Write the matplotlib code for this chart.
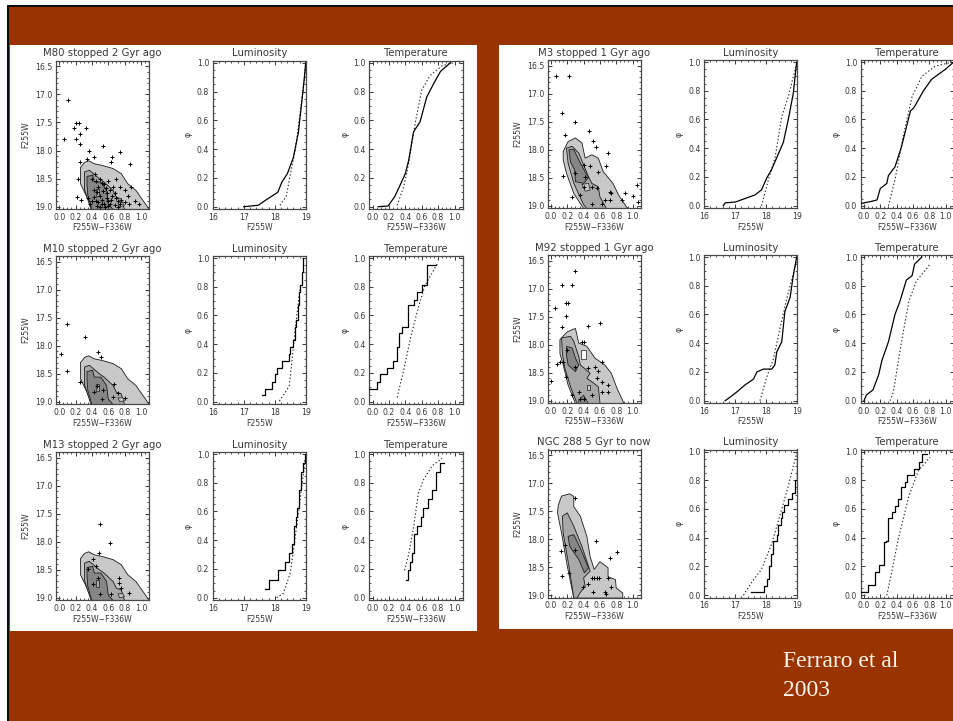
import matplotlib
matplotlib.use("Agg")
import matplotlib.pyplot as plt
from matplotlib.patches import Rectangle, Polygon
from matplotlib.ticker import MultipleLocator

W, H = 954, 721
BROWN = "#993300"
LIGHT, MID, DARK = "#c8c8c8", "#a8a8a8", "#868686"

titles_left = ["M80 stopped 2 Gyr ago", "M10 stopped 2 Gyr ago", "M13 stopped 2 Gyr ago"]
titles_right = ["M3 stopped 1 Gyr ago", "M92 stopped 1 Gyr ago", "NGC 288 5 Gyr to now"]
credit = "Ferraro et al\n2003"

# ---- contour outlines (colour, magnitude) ----
old_outer = [(.26,18.30),(.31,18.21),(.36,18.18),(.43,18.235),(.53,18.265),(.66,18.32),(.76,18.41),(.84,18.59),(.94,18.71),(1.08,19.0),(1.1,19.05),(.41,19.05),(.33,18.8),(.26,18.59)]
old_mid = [(.31,18.38),(.37,18.35),(.49,18.5),(.55,18.56),(.66,18.71),(.7,18.83),(.76,18.86),(.8,19.05),(.39,19.05),(.31,18.7)]
old_dark = [(.34,18.46),(.41,18.44),(.43,18.56),(.51,18.56),(.58,18.71),(.6,18.95),(.66,19.05),(.4,19.05),(.35,18.8),(.34,18.6)]
old_spot_a = [(.45,18.68),(.49,18.68),(.49,18.8),(.45,18.8)]
old_spot_b = [(.72,18.93),(.78,18.93),(.8,18.98),(.74,19.0)]

m3_outer = [(.15,18.03),(.21,17.855),(.3,17.79),(.38,17.88),(.41,18.09),(.42,18.15),(.5,18.09),(.58,18.15),(.64,18.39),(.76,18.6),(.83,18.81),(.93,19.03),(.95,19.05),(.40,19.05),(.28,18.78),(.19,18.42),(.15,18.18)]
m3_mid = [(.19,17.97),(.26,17.94),(.34,18.06),(.46,18.48),(.5,18.6),(.58,18.66),(.6,18.84),(.68,19.05),(.44,19.05),(.40,18.98),(.28,18.6),(.21,18.24)]
m3_dark = [(.22,18.0),(.28,18.0),(.36,18.24),(.44,18.45),(.46,18.5),(.4,18.6),(.3,18.57),(.29,18.36),(.24,18.22)]
m3_spot = [(.38,18.62),(.46,18.6),(.48,18.72),(.42,18.74)]

m92_outer = [(.11,17.91),(.2,17.77),(.3,17.71),(.34,17.97),(.44,18.03),(.54,18.24),(.66,18.36),(.74,18.51),(.81,18.78),(.89,19.03),(.91,19.05),(.30,19.05),(.21,18.72),(.15,18.36),(.11,18.16)]
m92_mid = [(.13,17.88),(.24,17.85),(.28,17.94),(.34,18.21),(.36,18.36),(.48,18.51),(.44,18.6),(.5,18.66),(.58,18.75),(.6,19.02),(.6,19.05),(.32,19.05),(.24,18.75),(.17,18.42),(.14,18.16)]
m92_dark = [(.19,18.03),(.26,18.06),(.3,18.24),(.34,18.36),(.3,18.48),(.21,18.36),(.19,18.18)]
m92_hole = [(.37,18.09),(.43,18.09),(.43,18.25),(.37,18.25)]
m92_spot_a = [(.44,18.72),(.48,18.72),(.48,18.8),(.44,18.8)]
m92_spot_b = [(.34,19.0),(.4,18.9),(.46,19.05),(.34,19.05)]

n288_outer = [(.09,17.39),(.13,17.23),(.23,17.19),(.28,17.24),(.28,17.42),(.36,17.59),(.44,17.95),(.48,18.31),(.53,18.54),(.6,18.4),(.7,18.51),(.7,18.67),(.79,18.72),(.8,18.87),(.88,18.96),(.88,19.05),(.28,19.05),(.2,18.48),(.13,17.89),(.08,17.53)]
n288_mid = [(.14,17.59),(.2,17.53),(.28,17.77),(.38,18.13),(.48,18.57),(.4,18.69),(.42,18.84),(.36,18.95),(.32,19.05),(.28,19.05),(.22,18.48),(.15,17.89)]
n288_dark = [(.21,17.95),(.28,17.92),(.36,18.16),(.46,18.51),(.41,18.6),(.34,18.36),(.23,18.13)]

# ---- stars (colour, magnitude) ----
m80_stars = [(.11,17.10),(.06,17.80),(.18,17.60),(.2,17.51),(.24,17.51),(.33,17.60),(.2,17.79),(.25,17.70),(.26,17.89),(.54,17.91),(.75,18.03),(.87,18.24),(.37,18.0),(.43,18.11),(.65,18.11),(.63,18.2),(.25,18.21),(.34,18.15),(.23,18.51),(.22,18.82),(.27,18.88),
  (.4,18.5),(.45,18.55),(.5,18.5),(.55,18.6),(.6,18.55),(.7,18.5),(.75,18.65),(.8,18.7),(.88,18.65),(.85,18.95),(.93,18.9),(.98,18.95),(.75,18.95),(.7,18.85),(.65,18.8),(.6,18.9),(.55,18.95),(.5,18.8),(.45,18.9),(.42,18.7),(.38,18.95),(.48,18.65),(.58,18.75),(.66,18.65),(.62,18.95),(.72,19.0),(.8,18.92),(.52,18.95),(.35,18.85),(.46,18.98),
  (.44,18.42),(.52,18.58),(.57,18.66),(.62,18.7),(.68,18.75),(.72,18.9),(.64,18.88),(.58,18.85),(.53,18.88),(.48,18.92),(.43,18.82),(.4,18.9),(.5,19.0),(.56,19.0),(.6,18.98),(.68,18.96),(.76,18.88),(.84,18.8),(.46,18.74),(.54,18.72)]
m10_stars = [(.09,17.61),(.31,17.84),(.02,18.14),(.1,18.45),(.47,18.12),(.51,18.2),(.25,18.64),(.43,18.83),(.54,18.79),(.52,18.95),(.67,18.69),(.72,18.85),(.8,18.93),(.66,18.92),(.46,18.71)]
m13_stars = [(.5,17.69),(.62,18.03),(.49,18.21),(.41,18.31),(.45,18.43),(.35,18.49),(.47,18.64),(.73,18.64),(.73,18.73),(.41,18.76),(.5,18.94),(.76,18.82),(.86,18.91),(.64,18.94)]
m3_stars = [(.06,16.69),(.22,16.68),(.13,17.34),(.3,17.51),(.17,17.73),(.47,17.66),(.52,17.85),(.55,17.96),(.7,18.06),(.68,18.29),(.48,18.29),(.4,18.27),(.15,18.47),(1.05,18.63),(1.0,18.83),(.91,18.77),(1.07,18.93),(.3,18.42),(.4,18.66),(.5,18.66),(.36,18.81),(.56,18.69),(.72,18.75),(.74,18.78),(.66,18.89),(.72,18.9),(.5,18.96),(.62,18.96),(.87,18.9),(.26,18.84),(.42,18.48),(.58,18.39)]
m92_stars = [(.29,16.69),(.14,16.93),(.26,16.94),(.19,17.26),(.21,17.26),(.05,17.34),(.19,17.48),(.13,17.69),(.45,17.66),(.6,17.62),(0,18.65),(.08,18.35),(.11,18.31),(.15,18.31),(.38,17.96),(.4,17.96),(.2,18.1),(.3,18.39),(.54,18.39),(.58,18.47),(.62,18.3),(.56,18.6),(.62,18.66),(.7,18.72),(.7,18.85),(.62,18.84),(.5,18.9),(.34,18.84),(.26,18.9),(.36,18.96),(.4,18.96),(.18,18.57),(.46,18.42)]
n288_stars = [(.3,17.27),(.55,18.04),(.81,18.23),(.72,18.33),(.12,18.21),(.17,18.1),(.13,18.66),(.22,18.6),(.3,18.2),(.39,18.86),(.52,18.95),(.66,18.95),(.74,18.86),(.45,18.8),(.7,18.7),(.68,18.98)]
n288_dash = [(.5,18.7),(.53,18.7),(.56,18.7),(.59,18.7)]

# ---- luminosity curves ----
m80_lum_x = [17.0,17.47,17.74,18.1,18.23,18.41,18.6,18.76,18.87,18.95,19.0]
m80_lum_y = [0,.01,.05,.10,.17,.23,.34,.51,.72,.88,1.0]
m80_lumm_x = [18.17,18.37,18.5,18.66,18.82,19.0]
m80_lumm_y = [.01,.07,.22,.39,.65,.97]
m10_lum_x = [17.6,17.7,17.9,18.0,18.07,18.25,18.45,18.5,18.6,18.66,18.7,18.76,18.79,18.82,18.87,18.9]
m10_lum_y = [.045,.09,.14,.19,.235,.285,.33,.38,.43,.52,.57,.67,.76,.81,.9,1.0]
m10_lumm_x = [18.15,18.33,18.47,18.55,18.66,18.82]
m10_lumm_y = [.005,.06,.11,.27,.5,.8]
m13_lum_x = [17.7,17.82,18.12,18.33,18.45,18.55,18.62,18.7,18.73,18.77,18.85,18.92,18.98]
m13_lum_y = [.06,.125,.19,.25,.31,.375,.5,.56,.625,.75,.875,.94,1.0]
m13_lumm_x = [18.06,18.28,18.5,18.66,18.82,18.98]
m13_lumm_y = [0,.03,.17,.42,.68,.96]
m3_lum_x = [16.62,16.68,17.0,17.32,17.64,17.85,18.01,18.17,18.33,18.55,18.71,18.87,18.98]
m3_lum_y = [0,.02,.025,.05,.075,.11,.19,.25,.33,.44,.6,.78,1.0]
m3_lumm_x = [17.85,18.07,18.29,18.5,18.71,18.98]
m3_lumm_y = [0,.18,.34,.62,.76,.99]
m92_lum_x = [16.68,16.81,17.05,17.32,17.59,17.7,17.91,18.18,18.28,18.34,18.5,18.6,18.77,18.87,18.98]
m92_lum_y = [0,.02,.06,.11,.15,.2,.22,.22,.25,.34,.41,.62,.72,.87,1.0]
m92_lumm_x = [17.8,18.01,18.23,18.44,18.66,18.98]
m92_lumm_y = [0,.16,.29,.5,.71,.97]
n288_lum_x = [17.5,17.91,17.94,18.01,18.09,18.16,18.22,18.34,18.39,18.47,18.52,18.58,18.69,18.82,18.93,18.98]
n288_lum_y = [.02,.02,.065,.11,.2,.29,.38,.42,.49,.54,.58,.63,.67,.71,.8,1.0]
n288_lumm_x = [17.27,17.53,17.85,18.18,18.5,18.71,18.98]
n288_lumm_y = [0,.09,.18,.36,.6,.76,.99]

# ---- temperature curves ----
m80_tmp_x = [.07,.19,.27,.32,.40,.44,.50,.58,.66,.75,.83,.95]
m80_tmp_y = [0,.005,.07,.13,.23,.32,.52,.59,.76,.86,.94,1.0]
m80_tmpm_x = [.30,.38,.44,.52,.60,.70,.85,.99]
m80_tmpm_y = [.01,.14,.3,.58,.81,.91,.98,1.0]
m10_tmp_x = [-.04,.05,.09,.17,.25,.30,.32,.36,.43,.50,.54,.60,.66,.77]
m10_tmp_y = [.09,.14,.19,.235,.285,.38,.48,.52,.67,.71,.76,.81,.95,.95]
m10_tmpm_x = [.30,.38,.47,.56,.64,.79]
m10_tmpm_y = [.03,.22,.46,.66,.81,.96]
m13_tmp_x = [.41,.43,.46,.48,.50,.54,.59,.62,.68,.73,.77,.82,.87]
m13_tmp_y = [.125,.19,.25,.31,.44,.5,.56,.625,.69,.75,.875,.94,.94]
m13_tmpm_x = [.39,.44,.5,.56,.62,.73,.85]
m13_tmpm_y = [.19,.3,.49,.73,.82,.92,.97]
m3_tmp_x = [-.04,.09,.16,.20,.28,.30,.38,.46,.57,.61,.73,.83,1.0,1.1]
m3_tmp_y = [.015,.03,.04,.12,.155,.21,.27,.41,.66,.68,.8,.88,.95,1.0]
m3_tmpm_x = [.30,.38,.48,.59,.71,.87,1.08]
m3_tmpm_y = [0,.18,.48,.76,.9,.97,1.0]
m92_tmp_x = [0,.03,.11,.18,.22,.3,.38,.44,.52,.59,.62,.71]
m92_tmp_y = [0,.04,.075,.18,.28,.41,.6,.69,.84,.87,.95,1.0]
m92_tmpm_x = [.32,.36,.46,.55,.64,.81]
m92_tmpm_y = [0,.06,.41,.69,.83,.95]
n288_tmp_x = [-.04,.05,.14,.18,.25,.27,.29,.34,.38,.42,.46,.5,.53,.61,.68,.71,.77]
n288_tmp_y = [.02,.07,.16,.21,.37,.38,.54,.58,.62,.67,.75,.79,.84,.88,.93,.98,.98]
n288_tmpm_x = [.28,.34,.42,.55,.67,.81]
n288_tmpm_y = [0,.16,.39,.69,.87,.96]

fig = plt.figure(figsize=(W/100, H/100), dpi=100, facecolor="white")

def rect(x0, y0, x1, y1, color):
    fig.add_artist(Rectangle((x0/W, 1-y1/H), (x1-x0)/W, (y1-y0)/H, transform=fig.transFigure,
                             facecolor=color, edgecolor="none"))

rect(7, 5, W, H, "#0a0a0a")
rect(9, 7, W, H, BROWN)
rect(10, 45, 477, 631, "white")
rect(499, 45, W, 629, "white")

FONT = "DejaVu Sans"
INK = "#383838"

def make_axes(x0, x1, ytop, ybot, xlim, ylim, xmaj, xmin, ymaj, ymin, xlabel, ylabel, title, ylab_off, fmt_x):
    ax = fig.add_axes([x0/W, 1-ybot/H, (x1-x0)/W, (ybot-ytop)/H], zorder=3)
    ax.set_xlim(*xlim); ax.set_ylim(*ylim)
    ax.xaxis.set_major_locator(MultipleLocator(xmaj)); ax.xaxis.set_minor_locator(MultipleLocator(xmin))
    ax.yaxis.set_major_locator(MultipleLocator(ymaj)); ax.yaxis.set_minor_locator(MultipleLocator(ymin))
    ax.tick_params(which="major", direction="in", top=True, right=True, length=3.2, width=.7, color=INK,
                   labelsize=5.6, labelcolor=INK, pad=2.6)
    ax.tick_params(which="minor", direction="in", top=True, right=True, length=1.5, width=.6, color=INK)
    for lab in ax.get_xticklabels() + ax.get_yticklabels():
        lab.set_fontfamily(FONT)
    for s in ax.spines.values():
        s.set_linewidth(.9); s.set_color("#484848")
    ax.xaxis.set_major_formatter(fmt_x)
    ax.yaxis.set_major_formatter(matplotlib.ticker.FormatStrFormatter("%.1f"))
    ax.set_xlabel(xlabel, fontsize=5.6, color=INK, family=FONT)
    ax.xaxis.set_label_coords(.5, -19/(ybot-ytop), transform=ax.transAxes)
    ax.xaxis.label.set_va("center")
    ax.set_ylabel(ylabel, fontsize=5.6, color=INK, family=FONT, va="center")
    ax.yaxis.set_label_coords(-ylab_off/(x1-x0), .5)
    ax.set_title(title, fontsize=7.3, color=INK, family=FONT, pad=3.2)
    return ax

F1 = matplotlib.ticker.FormatStrFormatter("%.1f")
F0 = matplotlib.ticker.FormatStrFormatter("%.0f")
COLOR_LABEL = "F255W\u2212F336W"

def cmd(x0, x1, yt, yb, title, polys, stars, extras):
    ax = make_axes(x0, x1, yt, yb, (-.04, 1.1), (19.04, 16.4), .2, .05, .5, .1, COLOR_LABEL, "F255W", title, 30, F1)
    for pts, c in zip(polys, (LIGHT, MID, DARK)):
        ax.add_patch(Polygon(pts, closed=True, facecolor=c, edgecolor="#1a1a1a", linewidth=.6, zorder=2))
    for pts, c in extras:
        ax.add_patch(Polygon(pts, closed=True, facecolor=c, edgecolor="#1a1a1a", linewidth=.5, zorder=2.5))
    ax.plot([p[0] for p in stars], [p[1] for p in stars], "+", color="black", ms=2.7, mew=.7, zorder=3)

def cdf(x0, x1, yt, yb, xlim, xmaj, xmin, xlabel, title, fx, ox, oy, mx, my, steps):
    ax = make_axes(x0, x1, yt, yb, xlim, (-.016, 1.014), xmaj, xmin, .2, .05, xlabel, "\u03c6", title, 24.5, fx)
    ax.plot(ox, oy, color="black", lw=.9, drawstyle="steps-post" if steps else "default", zorder=3)
    ax.plot(mx, my, color="#202020", lw=.8, ls=(0, (1.2, 2)), zorder=2)

old = (old_outer, old_mid, old_dark)
old_extras = [(old_spot_a, MID), (old_spot_b, LIGHT)]
rows_left = [
    (60.7, 209, titles_left[0], old, m80_stars, m80_lum_x, m80_lum_y, m80_lumm_x, m80_lumm_y, m80_tmp_x, m80_tmp_y, m80_tmpm_x, m80_tmpm_y, False, old_extras),
    (256, 404, titles_left[1], old, m10_stars, m10_lum_x, m10_lum_y, m10_lumm_x, m10_lumm_y, m10_tmp_x, m10_tmp_y, m10_tmpm_x, m10_tmpm_y, True, old_extras),
    (452, 600, titles_left[2], old, m13_stars, m13_lum_x, m13_lum_y, m13_lumm_x, m13_lumm_y, m13_tmp_x, m13_tmp_y, m13_tmpm_x, m13_tmpm_y, True, old_extras),
]
rows_right = [
    (60, 208, titles_right[0], (m3_outer, m3_mid, m3_dark), m3_stars, m3_lum_x, m3_lum_y, m3_lumm_x, m3_lumm_y, m3_tmp_x, m3_tmp_y, m3_tmpm_x, m3_tmpm_y, False, [(m3_spot, LIGHT)]),
    (255, 403, titles_right[1], (m92_outer, m92_mid, m92_dark), m92_stars, m92_lum_x, m92_lum_y, m92_lumm_x, m92_lumm_y, m92_tmp_x, m92_tmp_y, m92_tmpm_x, m92_tmpm_y, False, [(m92_hole, "white"), (m92_spot_a, LIGHT), (m92_spot_b, DARK)]),
    (449.5, 597.5, titles_right[2], (n288_outer, n288_mid, n288_dark), n288_stars + n288_dash, n288_lum_x, n288_lum_y, n288_lumm_x, n288_lumm_y, n288_tmp_x, n288_tmp_y, n288_tmpm_x, n288_tmpm_y, True, []),
]
for rows, (a0, a1, b0, b1, c0, c1) in ((rows_left, (56, 149, 212.7, 305.7, 369.3, 462.7)),
                                        (rows_right, (547.7, 640.7, 704, 797.3, 860.7, 953.7))):
    for yt, yb, ttl, polys, st, lx, ly, lmx, lmy, tx, ty, tmx, tmy, stp, extras in rows:
        cmd(a0, a1, yt, yb, ttl, polys, st, extras)
        cdf(b0, b1, yt, yb, (16, 19), 1, .2, "F255W", "Luminosity", F0, lx, ly, lmx, lmy, stp)
        cdf(c0, c1, yt, yb, (-.04, 1.1), .2, .05, COLOR_LABEL, "Temperature", F1, tx, ty, tmx, tmy, stp)

fig.text(783/W, 1-651/H, credit, color="#fff4ea", family="Liberation Serif", fontsize=17,
         va="top", ha="left", linespacing=1.48)

fig.savefig("out.png", dpi=100, facecolor="white")
